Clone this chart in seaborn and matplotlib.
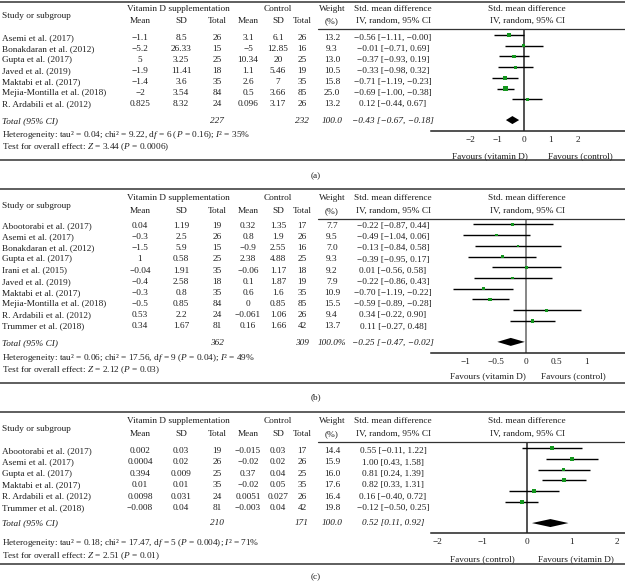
import numpy as np
import pandas as pd
import matplotlib
matplotlib.use("Agg")
import matplotlib.pyplot as plt
import seaborn as sns
from matplotlib.lines import Line2D

# ---------------- data ----------------
# panel (a)
studies_a = ["Asemi et al. (2017)", "Bonakdaran et al. (2012)", "Gupta et al. (2017)",
             "Javed et al. (2019)", "Maktabi et al. (2017)", "Mejia-Montilla et al. (2018)",
             "R. Ardabili et al. (2012)"]
vitd_mean_a = ["−1.1", "−5.2", "5", "−1.9", "−1.4", "−2", "0.825"]
vitd_sd_a = ["8.5", "26.33", "3.25", "11.41", "3.6", "3.54", "8.32"]
vitd_n_a = [26, 15, 25, 18, 35, 84, 24]
ctl_mean_a = ["3.1", "−5", "10.34", "1.1", "2.6", "0.5", "0.096"]
ctl_sd_a = ["6.1", "12.85", "20", "5.46", "7", "3.66", "3.17"]
ctl_n_a = [26, 16, 25, 19, 35, 85, 26]
weight_a = [13.2, 9.3, 13.0, 10.5, 15.8, 25.0, 13.2]
smd_a = [-0.56, -0.01, -0.37, -0.33, -0.71, -0.69, 0.12]
lo_a = [-1.11, -0.71, -0.93, -0.98, -1.19, -1.00, -0.44]
hi_a = [-0.00, 0.69, 0.19, 0.32, -0.23, -0.38, 0.67]
total_a = [227, 232]
pooled_a = [-0.43, -0.67, -0.18]
weight_total_a = "100.0"
het_a = "Heterogeneity: tau² = 0.04; chi² = 9.22, d$f$ = 6 ($P$ = 0.16); $I$² = 35%"
test_a = "Test for overall effect: $Z$ = 3.44 ($P$ = 0.0006)"
ticks_a = [-2, -1, 0, 1, 2]
fav_a = ["Favours (vitamin D)", "Favours (control)"]

# panel (b)
studies_b = ["Abootorabi et al. (2017)", "Asemi et al. (2017)", "Bonakdaran et al. (2012)",
             "Gupta et al. (2017)", "Irani et al. (2015)", "Javed et al. (2019)",
             "Maktabi et al. (2017)", "Mejia-Montilla et al. (2018)",
             "R. Ardabili et al. (2012)", "Trummer et al. (2018)"]
vitd_mean_b = ["0.04", "−0.3", "−1.5", "1", "−0.04", "−0.4", "−0.3", "−0.5", "0.53", "0.34"]
vitd_sd_b = ["1.19", "2.5", "5.9", "0.58", "1.91", "2.58", "0.8", "0.85", "2.2", "1.67"]
vitd_n_b = [19, 26, 15, 25, 35, 18, 35, 84, 24, 81]
ctl_mean_b = ["0.32", "0.8", "−0.9", "2.38", "−0.06", "0.1", "0.6", "0", "−0.061", "0.16"]
ctl_sd_b = ["1.35", "1.9", "2.55", "4.88", "1.17", "1.87", "1.6", "0.85", "1.06", "1.66"]
ctl_n_b = [17, 26, 16, 25, 18, 19, 35, 85, 26, 42]
weight_b = [7.7, 9.5, 7.0, 9.3, 9.2, 7.9, 10.9, 15.5, 9.4, 13.7]
smd_b = [-0.22, -0.49, -0.13, -0.39, 0.01, -0.22, -0.70, -0.59, 0.34, 0.11]
lo_b = [-0.87, -1.04, -0.84, -0.95, -0.56, -0.86, -1.19, -0.89, -0.22, -0.27]
hi_b = [0.44, 0.06, 0.58, 0.17, 0.58, 0.43, -0.22, -0.28, 0.90, 0.48]
total_b = [362, 309]
pooled_b = [-0.25, -0.47, -0.02]
weight_total_b = "100.0%"
het_b = "Heterogeneity: tau² = 0.06; chi² = 17.56, d$f$ = 9 ($P$ = 0.04); $I$² = 49%"
test_b = "Test for overall effect: $Z$ = 2.12 ($P$ = 0.03)"
ticks_b = [-1, -0.5, 0, 0.5, 1]
fav_b = ["Favours (vitamin D)", "Favours (control)"]

# panel (c)
studies_c = ["Abootorabi et al. (2017)", "Asemi et al. (2017)", "Gupta et al. (2017)",
             "Maktabi et al. (2017)", "R. Ardabili et al. (2012)", "Trummer et al. (2018)"]
vitd_mean_c = ["0.002", "0.0004", "0.394", "0.01", "0.0098", "−0.008"]
vitd_sd_c = ["0.03", "0.02", "0.009", "0.01", "0.031", "0.04"]
vitd_n_c = [19, 26, 25, 35, 24, 81]
ctl_mean_c = ["−0.015", "−0.02", "0.37", "−0.02", "0.0051", "−0.003"]
ctl_sd_c = ["0.03", "0.02", "0.04", "0.05", "0.027", "0.04"]
ctl_n_c = [17, 26, 25, 35, 26, 42]
weight_c = [14.4, 15.9, 16.0, 17.6, 16.4, 19.8]
smd_c = [0.55, 1.00, 0.81, 0.82, 0.16, -0.12]
lo_c = [-0.11, 0.43, 0.24, 0.33, -0.40, -0.50]
hi_c = [1.22, 1.58, 1.39, 1.31, 0.72, 0.25]
total_c = [210, 171]
pooled_c = [0.52, 0.11, 0.92]
weight_total_c = "100.0"
het_c = "Heterogeneity: tau² = 0.18; chi² = 17.47, d$f$ = 5 ($P$ = 0.004); $I$² = 71%"
test_c = "Test for overall effect: $Z$ = 2.51 ($P$ = 0.01)"
ticks_c = [-2, -1, 0, 1, 2]
fav_c = ["Favours (control)", "Favours (vitamin D)"]

# ---------------- style ----------------
sns.set_style("white")
plt.rcParams['font.family'] = ['Liberation Serif', 'DejaVu Serif']
plt.rcParams['mathtext.fontset'] = 'custom'
plt.rcParams['mathtext.rm'] = 'Liberation Serif'
plt.rcParams['mathtext.it'] = 'Liberation Serif:italic'
plt.rcParams['axes.unicode_minus'] = True

W, H = 625, 584
FS = 6.7
TXT = "#1e1e1e"
GREEN = "#14961e"

fig = plt.figure(figsize=(W / 100, H / 100), dpi=100)


def ftext(x, y, s, ha="center", style="normal"):
    fig.text(x / W, 1 - y / H, s, ha=ha, va="center_baseline", fontsize=FS,
             style=style, color=TXT)


def hline(x0, x1, y, lw=1.0, color="#333333"):
    fig.add_artist(Line2D([x0 / W, x1 / W], [1 - y / H, 1 - y / H],
                          transform=fig.transFigure, lw=lw, color=color))


def fmt(v, d=2):
    return f"{v:.{d}f}".replace("-", "−")


COL = dict(vm=140, vsd=181, vn=217, cm=248, csd=278, cn=302, w=332, ci=393, forest=527)


def panel(studies, vm, vsd, vn, cm, csd, cn, wt, smd, lo, hi, tot, pooled, wtot,
          het, test, ticks, fav, tickfmt, L):
    # rules
    hline(0, W, L["top"], lw=1.1)
    hline(0, W, L["bottom"], lw=1.1)
    # headers
    ftext(178, L["h1"], "Vitamin D supplementation")
    ftext(278, L["h1"], "Control")
    ftext(COL["w"], L["h1"], "Weight")
    ftext(COL["w"], L["h2"], "(%)")
    ftext(COL["ci"], L["h1"], "Std. mean difference")
    ftext(COL["ci"], L["h2"], "IV, random, 95% CI")
    ftext(COL["forest"], L["h1"], "Std. mean difference")
    ftext(COL["forest"], L["h2"], "IV, random, 95% CI")
    ftext(2, L["hs"], "Study or subgroup", ha="left")
    for k, lab in zip(["vm", "vsd", "vn", "cm", "csd", "cn"],
                      ["Mean", "SD", "Total", "Mean", "SD", "Total"]):
        ftext(COL[k], L["h2"], lab)
    hline(318, W, L["sep"], lw=0.9)
    # rows
    for i, name in enumerate(studies):
        y = L["t0"] + L["tsp"] * i
        ftext(2, y, name, ha="left")
        ftext(COL["vm"], y, vm[i])
        ftext(COL["vsd"], y, vsd[i])
        ftext(COL["vn"], y, str(vn[i]))
        ftext(COL["cm"], y, cm[i])
        ftext(COL["csd"], y, csd[i])
        ftext(COL["cn"], y, str(cn[i]))
        ftext(COL["w"], y, fmt(wt[i], 1))
        ftext(COL["ci"], y, f"{fmt(smd[i])} [{fmt(lo[i])}, {fmt(hi[i])}]")
    yt = L["ttot"]
    ftext(2, yt, "Total (95% CI)", ha="left", style="italic")
    ftext(COL["vn"], yt, str(tot[0]), style="italic")
    ftext(COL["cn"], yt, str(tot[1]), style="italic")
    ftext(COL["w"], yt, wtot, style="italic")
    ftext(COL["ci"], yt, f"{fmt(pooled[0])} [{fmt(pooled[1])}, {fmt(pooled[2])}]",
          style="italic")
    ftext(2, L["het"], het, ha="left")
    ftext(2, L["test"], test, ha="left")
    ftext(316, L["lab_y"], L["lab"])

    # forest axes
    x0, x1 = 431, 625
    sep, axy = L["sep"], L["axis"]
    ax = fig.add_axes([x0 / W, 1 - axy / H, (x1 - x0) / W, (axy - sep) / H])
    ax.set_facecolor("none")
    m0, msp = L["m0"], L["msp"]
    ax.set_ylim((axy - m0) / msp, (sep - m0) / msp)
    z, u = L["zero"], L["unit"]
    ax.set_xlim((x0 - z) / u, (x1 - z) / u)
    n = len(studies)
    df = pd.DataFrame({"smd": smd, "lo": lo, "hi": hi, "w": wt,
                       "row": np.arange(n, dtype=float)})
    ax.axvline(0, color=L["zcol"], lw=1.1, zorder=1)
    ax.hlines(df["row"], df["lo"], df["hi"], color="#000000", lw=1.0, zorder=2)
    wmax = max(wt)
    sns.scatterplot(data=df, x="smd", y="row", size="w", sizes=(0, 0.45 * wmax),
                    size_norm=(0, wmax), marker="s", color=GREEN, linewidth=0,
                    legend=False, ax=ax, zorder=3)
    ty = n - 1 + 1.95
    hh = 4.0 / msp
    ax.fill([pooled[1], pooled[0], pooled[2], pooled[0]],
            [ty, ty - hh, ty, ty + hh], color="black", lw=0, zorder=3)
    for s in ["top", "right", "left"]:
        ax.spines[s].set_visible(False)
    ax.spines["bottom"].set_color("#222222")
    ax.spines["bottom"].set_linewidth(1.1)
    ax.set_yticks([])
    ax.set_xticks(ticks)
    ax.set_xticklabels([tickfmt(t) for t in ticks])
    ax.tick_params(axis="x", direction="inout", length=3.5, width=0.8, pad=1.5,
                   labelsize=FS, colors="#222222", labelcolor=TXT)
    ax.set_xlabel("")
    ax.set_ylabel("")
    ftext(L["fl"], L["fav"], fav[0])
    ftext(L["fr"], L["fav"], fav[1])
    return ax


def tf_int(t):
    return f"{t:g}".replace("-", "−")


LA = dict(top=1.5, bottom=160, h1=8, h2=20, hs=15, sep=29, t0=37, tsp=11.0,
          ttot=120, het=133, test=145, lab="(a)", lab_y=175,
          axis=131, m0=35, msp=10.7, zero=524, unit=27.0, zcol="#222222",
          fl=490, fr=580, fav=155)
LB = dict(top=189, bottom=383, h1=197, h2=210, hs=205, sep=219, t0=225, tsp=11.15,
          ttot=342, het=356, test=368, lab="(b)", lab_y=396,
          axis=353, m0=224.3, msp=10.74, zero=526, unit=61.0, zcol="#666666",
          fl=488, fr=573, fav=375)
LC = dict(top=412, bottom=564, h1=420, h2=433, hs=428, sep=441.5, t0=450, tsp=11.4,
          ttot=522, het=541, test=554, lab="(c)", lab_y=576,
          axis=533, m0=448, msp=10.8, zero=527, unit=45.0, zcol="#222222",
          fl=482, fr=576, fav=558)

panel(studies_a, vitd_mean_a, vitd_sd_a, vitd_n_a, ctl_mean_a, ctl_sd_a, ctl_n_a,
      weight_a, smd_a, lo_a, hi_a, total_a, pooled_a, weight_total_a, het_a, test_a,
      ticks_a, fav_a, tf_int, LA)
panel(studies_b, vitd_mean_b, vitd_sd_b, vitd_n_b, ctl_mean_b, ctl_sd_b, ctl_n_b,
      weight_b, smd_b, lo_b, hi_b, total_b, pooled_b, weight_total_b, het_b, test_b,
      ticks_b, fav_b, tf_int, LB)
panel(studies_c, vitd_mean_c, vitd_sd_c, vitd_n_c, ctl_mean_c, ctl_sd_c, ctl_n_c,
      weight_c, smd_c, lo_c, hi_c, total_c, pooled_c, weight_total_c, het_c, test_c,
      ticks_c, fav_c, tf_int, LC)

fig.savefig("out.png", dpi=100, facecolor="white")
